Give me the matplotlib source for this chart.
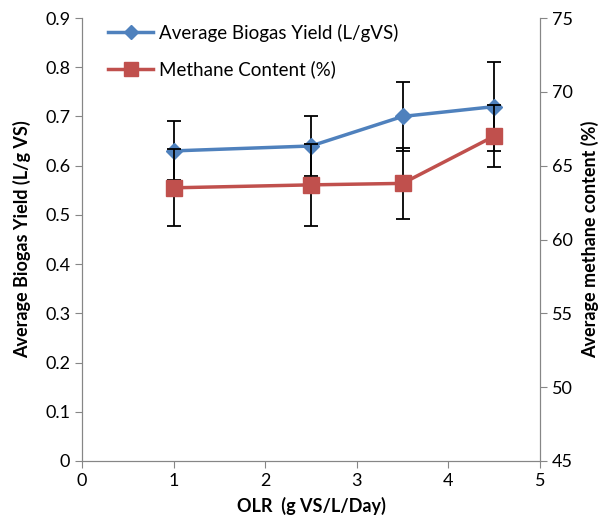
import matplotlib
matplotlib.use("Agg")
import matplotlib.pyplot as plt
from matplotlib.lines import Line2D

plt.rcParams["font.family"] = ["Lato", "DejaVu Sans"]

olr = [1, 2.5, 3.5, 4.5]
biogas_yield = [0.63, 0.64, 0.70, 0.72]
biogas_err = [0.06, 0.06, 0.07, 0.09]
methane = [63.5, 63.7, 63.8, 67.0]
methane_err = [2.6, 2.8, 2.4, 2.1]

blue = "#4F81BD"
red = "#C0504D"
axis_grey = "#868686"

fig = plt.figure(figsize=(6.06, 5.28), dpi=100)
ax = fig.add_axes([0.1353, 0.1269, 0.7558, 0.839])
ax2 = ax.twinx()

ax.errorbar(olr, biogas_yield, yerr=biogas_err, color=blue, lw=2.5,
            marker="D", ms=8, mfc=blue, mec=blue, ecolor="black",
            elinewidth=1.3, capsize=5, capthick=1.3, zorder=3)
ax2.errorbar(olr, methane, yerr=methane_err, color=red, lw=2.5,
             marker="s", ms=11, mfc=red, mec=red, ecolor="black",
             elinewidth=1.3, capsize=5, capthick=1.3, zorder=3)

ax.set_xlim(0, 5)
ax.set_ylim(0, 0.9)
ax2.set_ylim(45, 75)
ax.set_xticks(range(0, 6))
ax.set_yticks([i / 10 for i in range(10)])
ax.set_yticklabels([f"{i / 10:g}" if i else "0" for i in range(10)])
ax2.set_yticks(range(45, 80, 5))

for a in (ax, ax2):
    a.spines["top"].set_visible(False)
    for s in ("left", "right", "bottom"):
        a.spines[s].set_color(axis_grey)
    a.tick_params(colors=axis_grey, labelcolor="black", labelsize=13,
                  direction="out", length=5)

ax.set_xlabel("OLR  (g VS/L/Day)", fontsize=13, fontweight="bold", labelpad=6)
ax.set_ylabel("Average Biogas Yield (L/g VS)", fontsize=13, fontweight="bold", labelpad=10)
ax2.set_ylabel("Average methane content (%)", fontsize=13, fontweight="bold", labelpad=6)

handles = [
    Line2D([], [], color=blue, lw=2.5, marker="D", ms=7, mfc=blue, mec=blue),
    Line2D([], [], color=red, lw=2.5, marker="s", ms=10, mfc=red, mec=red),
]
ax.legend(handles, ["Average Biogas Yield (L/gVS)", "Methane Content (%)"],
          loc="upper left", bbox_to_anchor=(0.02, 1.025), frameon=False,
          fontsize=13.5, handlelength=2.4, handletextpad=0.3, labelspacing=1.0)

fig.savefig("out.png", dpi=100)
